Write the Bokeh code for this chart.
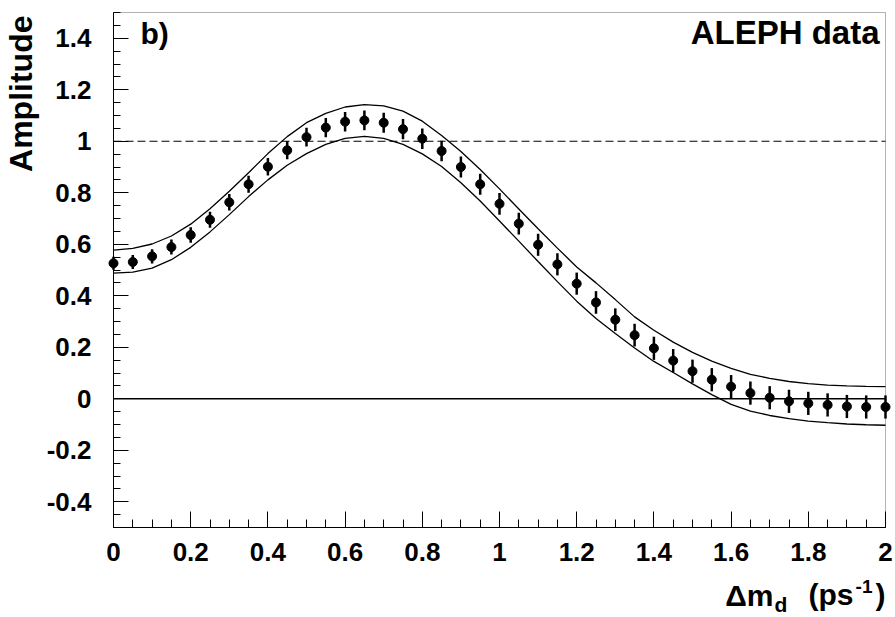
import math
from bokeh.plotting import figure
from bokeh.models import FixedTicker, CustomJSTickFormatter, Label, Range1d, BoxAnnotation
from bokeh.embed import file_html
from bokeh.resources import INLINE

# ---- data ----
dm = [0.0, 0.05, 0.1, 0.15, 0.2, 0.25, 0.3, 0.35, 0.4, 0.45,
      0.5, 0.55, 0.6, 0.65, 0.7, 0.75, 0.8, 0.85, 0.9, 0.95,
      1.0, 1.05, 1.1, 1.15, 1.2, 1.25, 1.3, 1.35, 1.4, 1.45,
      1.5, 1.55, 1.6, 1.65, 1.7, 1.75, 1.8, 1.85, 1.9, 1.95, 2.0]

amplitude = [0.526, 0.531, 0.553, 0.589, 0.636, 0.695, 0.763, 0.833, 0.901, 0.965,
             1.016, 1.053, 1.076, 1.081, 1.072, 1.047, 1.010, 0.962, 0.900, 0.833,
             0.757, 0.680, 0.598, 0.522, 0.447, 0.374, 0.307, 0.247, 0.196, 0.148,
             0.107, 0.074, 0.047, 0.022, 0.004, -0.010, -0.018, -0.024, -0.030, -0.032, -0.032]

amp_err = [0.025, 0.027, 0.028, 0.029, 0.030, 0.031, 0.032, 0.033, 0.034, 0.035,
           0.036, 0.037, 0.038, 0.038, 0.039, 0.039, 0.040, 0.040, 0.041, 0.041,
           0.042, 0.042, 0.043, 0.043, 0.043, 0.044, 0.044, 0.044, 0.045, 0.045,
           0.045, 0.045, 0.045, 0.045, 0.045, 0.045, 0.045, 0.045, 0.045, 0.045, 0.045]

band_upper = [0.577, 0.584, 0.601, 0.632, 0.678, 0.738, 0.806, 0.878, 0.952, 1.018,
              1.072, 1.108, 1.133, 1.142, 1.137, 1.117, 1.078, 1.022, 0.960, 0.890,
              0.815, 0.737, 0.660, 0.585, 0.512, 0.450, 0.385, 0.318, 0.266, 0.220,
              0.180, 0.146, 0.118, 0.095, 0.079, 0.067, 0.059, 0.053, 0.050, 0.048, 0.047]

band_lower = [0.488, 0.492, 0.507, 0.540, 0.588, 0.648, 0.715, 0.785, 0.850, 0.907,
              0.952, 0.988, 1.011, 1.019, 1.011, 0.988, 0.951, 0.902, 0.839, 0.768,
              0.690, 0.612, 0.533, 0.455, 0.379, 0.312, 0.253, 0.197, 0.145, 0.102,
              0.058, 0.016, -0.022, -0.048, -0.065, -0.077, -0.087, -0.093, -0.098, -0.101, -0.103]

x_ticks = [0, 0.2, 0.4, 0.6, 0.8, 1.0, 1.2, 1.4, 1.6, 1.8, 2.0]
y_ticks = [-0.4, -0.2, 0, 0.2, 0.4, 0.6, 0.8, 1.0, 1.2, 1.4]
x_minor = [i * 0.05 for i in range(41)]
y_minor = [-0.5 + i * 0.05 for i in range(41)]
X_MIN, X_MAX = 0.0, 2.0
Y_MIN, Y_MAX = -0.5, 1.5
ref_unity = 1.0
ref_zero = 0.0

FONT = "Liberation Sans"

# canvas geometry: plot box at px 113..885 (x) and 12..527 (y)
W, H = 895, 617
BOX_L, BOX_R, BOX_T, BOX_B = 113, 885, 12, 527

def dx(px):
    return X_MIN + (px - BOX_L) * (X_MAX - X_MIN) / (BOX_R - BOX_L)

def dy(py):
    return Y_MAX - (py - BOX_T) * (Y_MAX - Y_MIN) / (BOX_B - BOX_T)

p = figure(width=W, height=H, output_backend="svg", toolbar_location=None,
           x_range=Range1d(dx(0), dx(W)), y_range=Range1d(dy(H), dy(0)),
           min_border_left=0, min_border_right=0, min_border_top=0, min_border_bottom=0)
p.background_fill_color = "white"
p.border_fill_color = "white"
p.outline_line_color = None
p.xgrid.visible = False
p.ygrid.visible = False

fmt = CustomJSTickFormatter(code="return tick.toFixed(1).replace(/\\.0$/, '');")

xa, ya = p.xaxis[0], p.yaxis[0]
xa.fixed_location = Y_MIN
ya.fixed_location = X_MIN
xa.bounds = (X_MIN, X_MAX)
ya.bounds = (Y_MIN, Y_MAX)
for ax, ticks, minors in ((xa, x_ticks, x_minor), (ya, y_ticks, y_minor)):
    ax.ticker = FixedTicker(ticks=ticks, minor_ticks=minors)
    ax.formatter = fmt
    ax.axis_line_color = "black"
    ax.major_tick_line_color = "black"
    ax.minor_tick_line_color = "black"
    ax.major_tick_out = 0
    ax.minor_tick_out = 0
    ax.major_label_text_font = FONT
    ax.major_label_text_font_style = "bold"
    ax.major_label_text_font_size = "26px"
    ax.major_label_text_color = "black"

xa.major_tick_in = 16
xa.minor_tick_in = 8
ya.major_tick_in = 15
ya.minor_tick_in = 7
ya.major_label_standoff = 22
xa.major_label_standoff = 15

# plot box
p.add_layout(BoxAnnotation(left=X_MIN, right=X_MAX, bottom=Y_MIN, top=Y_MAX,
                           fill_alpha=0, line_color="black", line_width=1, level="underlay"))

# reference lines at 1 (dashed) and 0 (solid)
p.segment(x0=[X_MIN], y0=[ref_unity], x1=[X_MAX], y1=[ref_unity],
          line_color="black", line_width=1.2, line_dash="8 4")
p.segment(x0=[X_MIN], y0=[ref_zero], x1=[X_MAX], y1=[ref_zero],
          line_color="black", line_width=1.5)

# band
p.line(dm, band_upper, line_color="black", line_width=1.3)
p.line(dm, band_lower, line_color="black", line_width=1.3)

# data with error bars
lo = [a - e for a, e in zip(amplitude, amp_err)]
hi = [a + e for a, e in zip(amplitude, amp_err)]
p.segment(dm, lo, dm, hi, line_color="black", line_width=2.5)
p.scatter(dm, amplitude, size=9, fill_color="black", line_color="black")

# ---- text (anchor = top of the text box; glyph tops sit ~0.3 em below it) ----
def lab(text, px, glyph_top, size_px, align="left", angle=0.0):
    off = 0.3 * size_px
    if angle:
        ax_px, ay_px = px - off, glyph_top
    else:
        ax_px, ay_px = px, glyph_top - off
    p.add_layout(Label(x=dx(ax_px), y=dy(ay_px), text=text, text_font=FONT,
                       text_font_style="bold", text_font_size=f"{size_px}px",
                       text_align=align, text_baseline="top", angle=angle,
                       text_color="black"))

lab("b)", 140, 25, 30)
lab("ALEPH data", 879, 23, 33, align="right")
lab("Amplitude", 12, 15, 32, align="right", angle=math.pi / 2)

# x-axis title  Δm_d (ps^-1), right aligned at the box end
lab(")", 885, 586, 30, align="right")
lab("-1", 872, 585, 19, align="right")
lab("(ps", 853, 586, 30, align="right")
lab("d", 774, 599, 21)
lab("Δm", 773, 587, 30, align="right")

open("out.html", "w").write(file_html(p, INLINE))
